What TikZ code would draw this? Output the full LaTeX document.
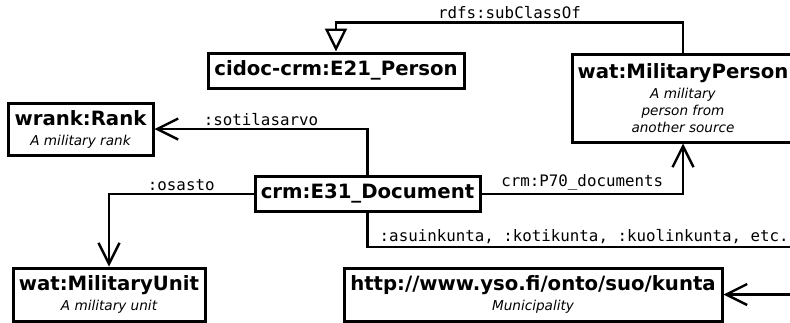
\documentclass[tikz,border=0pt]{standalone}
\usepackage{fontspec}
\usepackage{tikz}
\usetikzlibrary{arrows.meta}
\setmainfont{DejaVu Sans}
\newfontfamily\monofont{DejaVu Sans Mono}
\newcommand{\entname}[1]{{\fontsize{19.7}{22}\selectfont\bfseries #1}}
\newcommand{\entdesc}[1]{{\fontsize{13.6}{17}\selectfont\itshape #1}}

\begin{document}
\begin{tikzpicture}[
    x=1pt, y=-1pt,
    entity/.style={
        rectangle,
        draw=black,
        line width=3pt,
        align=center,
        inner sep=0pt,
        font=\fontsize{13.6}{17}\selectfont
    },
    link/.style={-{Straight Barb[length=21pt,width=21pt]}, line width=2.4pt},
    subclass/.style={-{Triangle[open,length=23pt,width=22pt,fill=white]}, line width=2.4pt},
    lbl/.style={font=\monofont\fontsize{15.8}{18}\selectfont, above, inner sep=2.5pt}
]
    \useasboundingbox (0,0) rectangle (790,322);
    \clip (0,0) rectangle (790,322);

    % Classes
    \node[entity, minimum width=256pt, minimum height=35pt] (person) at (336,70.5)
        {\entname{cidoc-crm:E21\_Person}};
    \node[entity, minimum width=222pt, minimum height=88pt] (milperson) at (683,98)
        {\entname{wat:MilitaryPerson}\\[2.5pt] \entdesc{A military}\\ \entdesc{person from}\\ \entdesc{another source}};
    \node[entity, minimum width=145pt, minimum height=52pt] (rank) at (80.5,129)
        {\entname{wrank:Rank}\\[3pt] \entdesc{A military rank}};
    \node[entity, minimum width=225pt, minimum height=35pt] (doc) at (367.5,194)
        {\entname{crm:E31\_Document}};
    \node[entity, minimum width=192pt, minimum height=53pt] (unit) at (109,294.5)
        {\entname{wat:MilitaryUnit}\\[3pt] \entdesc{A military unit}};
    \node[entity, minimum width=378pt, minimum height=53pt] (kunta) at (533,294.5)
        {\entname{http://www.yso.fi/onto/suo/kunta}\\[3pt] \entdesc{Municipality}};
    \coordinate (offright) at (801,247);

    % Properties
    \draw[subclass] (milperson.north) -- ++(0,-30) -| node[lbl, pos=0.25] {rdfs:subClassOf} (person.north);
    \draw[link] (doc.north) |- node[lbl, pos=0.75] {:sotilasarvo} (rank.east);
    \draw[link] (doc.west) -| node[lbl, pos=0.25] {:osasto} (unit.north);
    \draw[link] (doc.east) -| node[lbl, pos=0.25] {crm:P70\_documents} (milperson.south);
    \draw[line width=2.4pt] (doc.south) |- node[lbl, pos=0.75] {:asuinkunta, :kotikunta, :kuolinkunta, etc.} (offright);
    \draw[link] (offright) |- (kunta.east);

\end{tikzpicture}
\end{document}
